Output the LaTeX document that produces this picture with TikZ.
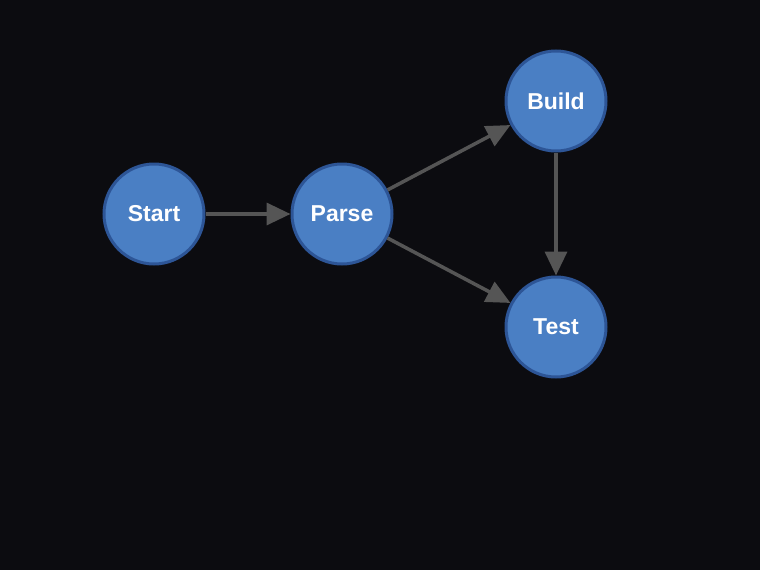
\documentclass[tikz,border=0pt]{standalone}
\usepackage{fontspec}
\setmainfont{Liberation Sans}
\usetikzlibrary{arrows.meta}
\definecolor{bgdark}{HTML}{0C0C10}
\definecolor{nodeblue}{HTML}{4A7FC4}
\definecolor{nodeedge}{HTML}{2D5596}
\definecolor{linkgray}{HTML}{555555}
\tikzset{
  stage/.style={shape=circle, fill=nodeblue, draw=nodeedge, line width=3pt,
    minimum size=100pt, inner sep=0pt, text=white, font=\fontsize{23}{27}\selectfont\bfseries},
  link/.style={draw=linkgray, line width=3.5pt, -{Triangle[length=24pt,width=22pt]}}
}
\begin{document}
\begin{tikzpicture}[x=1pt,y=-1pt]
%%%%%%%%%%%%%%%%%%%%%%%%%%%%%%%%%%%%%%%%%%% background
\fill[bgdark] (0,0) rectangle (760,570);
\useasboundingbox (0,0) rectangle (760,570);

%%%%%%%%%%%%%%%%%%%%%%%%%%%%%%%%%%%%%%%%%%% stages
\node[stage](start) at (154,214) {\raisebox{-2pt}{Start}};
\node[stage](parse) at (342,214) {\raisebox{-2pt}{Parse}};
\node[stage](build) at (556,101) {\raisebox{-2pt}{Build}};
\node[stage](test) at (556,327) {\raisebox{-2pt}{Test}};

%%%%% links
\draw[link] (start) -- (parse);
\draw[link] (parse) -- (build);
\draw[link] (parse) -- (test);
\draw[link] (build) -- (test);
\end{tikzpicture}
\end{document}
